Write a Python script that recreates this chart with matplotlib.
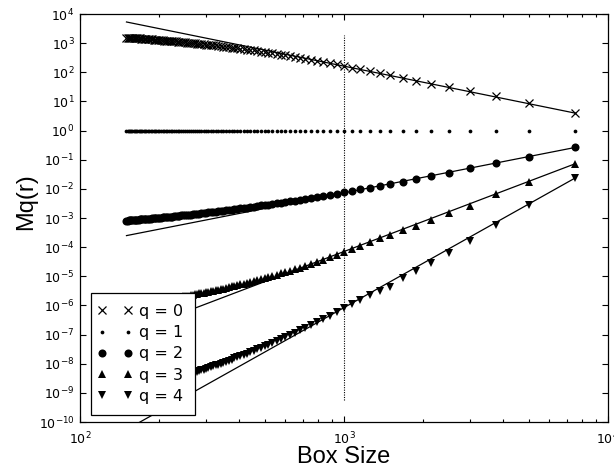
import numpy as np
import matplotlib
matplotlib.use("Agg")
import matplotlib.pyplot as plt
from matplotlib.lines import Line2D
from matplotlib.legend_handler import HandlerLine2D
from matplotlib.ticker import LogLocator, NullLocator, NullFormatter

# Box sizes (domain of 15000 split into 2..100 boxes per side)
box_size = [7500, 5000, 3750, 3000, 2500, 2142.9, 1875, 1666.7, 1500, 1363.6,
            1250, 1153.8, 1071.4, 1000, 937.5, 882.4, 833.3, 789.5, 750, 714.3,
            681.8, 652.2, 625, 600, 576.9, 555.6, 535.7, 517.2, 500, 483.9,
            468.8, 454.5, 441.2, 428.6, 416.7, 405.4, 394.7, 384.6, 375, 365.9,
            357.1, 348.8, 340.9, 333.3, 326.1, 319.1, 312.5, 306.1, 300, 294.1,
            288.5, 283.0, 277.8, 272.7, 267.9, 263.2, 258.6, 254.2, 250, 245.9,
            241.9, 238.1, 234.4, 230.8, 227.3, 223.9, 220.6, 217.4, 214.3, 211.3,
            208.3, 205.5, 202.7, 200, 197.4, 194.8, 192.3, 189.9, 187.5, 185.2,
            182.9, 180.7, 178.6, 176.5, 174.4, 172.4, 170.5, 168.5, 166.7, 164.8,
            163.0, 161.3, 159.6, 157.9, 156.3, 154.6, 153.1, 151.5, 150]

# log10 of the partition moments Mq(r), same order as box_size
log_m0 = [0.60, 0.94, 1.19, 1.35, 1.49, 1.60, 1.71, 1.81, 1.90, 1.97, 2.04, 2.10, 2.16, 2.22, 2.27,
          2.32, 2.36, 2.40, 2.43, 2.47, 2.50, 2.53, 2.55, 2.58, 2.61,
          2.63, 2.65, 2.67, 2.69, 2.71, 2.73, 2.75, 2.76, 2.78, 2.79,
          2.81, 2.82, 2.83, 2.85, 2.86, 2.87, 2.88, 2.89, 2.90, 2.92,
          2.92, 2.93, 2.94, 2.95, 2.96, 2.97, 2.98, 2.98, 2.99, 3.00,
          3.01, 3.01, 3.02, 3.03, 3.03, 3.04, 3.05, 3.05, 3.06, 3.06,
          3.07, 3.07, 3.08, 3.08, 3.09, 3.09, 3.10, 3.10, 3.11, 3.11,
          3.11, 3.12, 3.12, 3.13, 3.13, 3.13, 3.14, 3.14, 3.14, 3.15,
          3.15, 3.15, 3.16, 3.16, 3.16, 3.17, 3.17, 3.17, 3.18, 3.18,
          3.18, 3.18, 3.19, 3.19]

m1 = [1.0] * len(box_size)

log_m2 = [-0.58, -0.89, -1.12, -1.29, -1.46, -1.57, -1.67, -1.75, -1.84, -1.91, -1.97, -2.02, -2.07, -2.11, -2.16,
          -2.20, -2.24, -2.28, -2.31, -2.34, -2.37, -2.40, -2.42, -2.45, -2.47,
          -2.50, -2.52, -2.54, -2.56, -2.57, -2.59, -2.61, -2.63, -2.64, -2.66,
          -2.67, -2.69, -2.70, -2.71, -2.72, -2.74, -2.75, -2.76, -2.77, -2.78,
          -2.79, -2.80, -2.81, -2.82, -2.83, -2.84, -2.85, -2.85, -2.86, -2.87,
          -2.88, -2.89, -2.89, -2.90, -2.91, -2.91, -2.92, -2.93, -2.93, -2.94,
          -2.95, -2.95, -2.96, -2.96, -2.97, -2.97, -2.98, -2.99, -2.99, -3.00,
          -3.00, -3.01, -3.01, -3.01, -3.02, -3.02, -3.03, -3.03, -3.04, -3.04,
          -3.05, -3.05, -3.05, -3.06, -3.06, -3.06, -3.07, -3.07, -3.07, -3.08,
          -3.08, -3.08, -3.09, -3.09]

log_m3 = [-1.14, -1.75, -2.18, -2.58, -2.83, -3.08, -3.27, -3.42, -3.57, -3.70, -3.84, -3.95, -4.06, -4.17, -4.27,
          -4.35, -4.43, -4.51, -4.58, -4.64, -4.70, -4.75, -4.81, -4.86, -4.90,
          -4.94, -4.99, -5.02, -5.06, -5.10, -5.13, -5.16, -5.19, -5.22, -5.25,
          -5.28, -5.30, -5.33, -5.35, -5.38, -5.40, -5.42, -5.44, -5.46, -5.48,
          -5.49, -5.51, -5.53, -5.55, -5.56, -5.58, -5.59, -5.61, -5.62, -5.63,
          -5.65, -5.66, -5.67, -5.68, -5.69, -5.71, -5.72, -5.73, -5.74, -5.75,
          -5.76, -5.77, -5.78, -5.79, -5.79, -5.80, -5.81, -5.82, -5.83, -5.84,
          -5.84, -5.85, -5.86, -5.86, -5.87, -5.88, -5.88, -5.89, -5.90, -5.90,
          -5.91, -5.91, -5.92, -5.92, -5.93, -5.93, -5.94, -5.94, -5.95, -5.95,
          -5.96, -5.96, -5.97, -5.97]

log_m4 = [-1.63, -2.55, -3.23, -3.78, -4.20, -4.55, -4.83, -5.06, -5.37, -5.49, -5.63, -5.80, -5.94, -6.09, -6.24,
          -6.36, -6.48, -6.58, -6.68, -6.77, -6.86, -6.94, -7.02, -7.09, -7.16,
          -7.22, -7.29, -7.35, -7.40, -7.46, -7.51, -7.56, -7.61, -7.65, -7.70,
          -7.74, -7.78, -7.82, -7.86, -7.89, -7.93, -7.96, -8.00, -8.03, -8.06,
          -8.09, -8.12, -8.15, -8.17, -8.20, -8.23, -8.25, -8.28, -8.30, -8.32,
          -8.35, -8.37, -8.39, -8.41, -8.43, -8.45, -8.47, -8.49, -8.51, -8.53,
          -8.54, -8.56, -8.58, -8.60, -8.61, -8.63, -8.64, -8.66, -8.67, -8.69,
          -8.70, -8.72, -8.73, -8.74, -8.76, -8.77, -8.78, -8.79, -8.81, -8.82,
          -8.83, -8.84, -8.85, -8.87, -8.88, -8.89, -8.90, -8.91, -8.92, -8.93,
          -8.94, -8.95, -8.96, -8.97]

q_labels = ["q = 0", "q = 1", "q = 2", "q = 3", "q = 4"]

# Power-law fits Mq ~ r^tau (q = 0, 2, 3, 4): exponent and log10 value at the largest box
fit_q = [0, 2, 3, 4]
fit_tau = [-1.84, 1.78, 3.44, 5.08]
fit_log_at_max = [0.60, -0.58, -1.14, -1.63]

# Dotted guide at r = 1000
guide_x = 1000
guide_log_span = [-9.23, 3.28]

box = np.array(box_size)
series = [10 ** np.array(log_m0), np.array(m1), 10 ** np.array(log_m2),
          10 ** np.array(log_m3), 10 ** np.array(log_m4)]
styles = [dict(marker="x", ms=5.5, mew=0.9),
          dict(marker="o", ms=2.7, mew=0),
          dict(marker="o", ms=5.8, mew=0),
          dict(marker="^", ms=6.0, mew=0),
          dict(marker="v", ms=6.0, mew=0)]

fig = plt.figure(figsize=(6.14, 4.68), dpi=100)
ax = fig.add_axes([80 / 614, 1 - 422 / 468, 528 / 614, 408 / 468])
ax.set_xscale("log")
ax.set_yscale("log")
ax.set_xlim(1e2, 1e4)
ax.set_ylim(1e-10, 1e4)

for vals, st in zip(series, styles):
    ax.plot(box, vals, linestyle="none", color="black", mec="black", mfc="black", **st)

r_ends = np.array([box.min(), box.max()])
for tau, lm in zip(fit_tau, fit_log_at_max):
    ax.plot(r_ends, 10 ** lm * (r_ends / box.max()) ** tau, color="black", lw=0.9)

ax.plot([guide_x, guide_x], [10 ** guide_log_span[0], 10 ** guide_log_span[1]],
        color="black", lw=0.8, linestyle=(0, (1, 1.2)))

ax.yaxis.set_major_locator(LogLocator(base=10, numticks=30))
ax.yaxis.set_minor_locator(NullLocator())
ax.xaxis.set_minor_locator(LogLocator(base=10, subs=np.arange(2, 10), numticks=30))
ax.xaxis.set_minor_formatter(NullFormatter())
ax.tick_params(which="both", direction="in", top=True, right=True, width=0.8, labelsize=9)
ax.tick_params(which="major", length=4)
ax.tick_params(which="minor", length=2.5)
ax.tick_params(axis="x", pad=6)
ax.tick_params(axis="y", pad=4)
for s in ax.spines.values():
    s.set_linewidth(0.9)

ax.set_xlabel("Box Size", fontsize=17, family="Liberation Sans")
ax.set_ylabel("Mq(r)", fontsize=17, family="Liberation Sans")
ax.xaxis.set_label_coords(0.5, -0.058)
ax.yaxis.set_label_coords(-0.081, 0.54)

handles = [Line2D([], [], linestyle="none", color="black", mec="black", mfc="black", **st)
           for st in styles]
leg = ax.legend(handles, q_labels, loc="lower left", bbox_to_anchor=(0.02, 0.017),
                borderaxespad=0, numpoints=2, handlelength=1.67, handletextpad=0.69,
                labelspacing=0.39, borderpad=0.7, fontsize=11.5, fancybox=False,
                framealpha=1, edgecolor="black",
                handler_map={Line2D: HandlerLine2D(marker_pad=0.0)})
leg.get_frame().set_linewidth(0.9)

fig.savefig("out.png", dpi=100)
